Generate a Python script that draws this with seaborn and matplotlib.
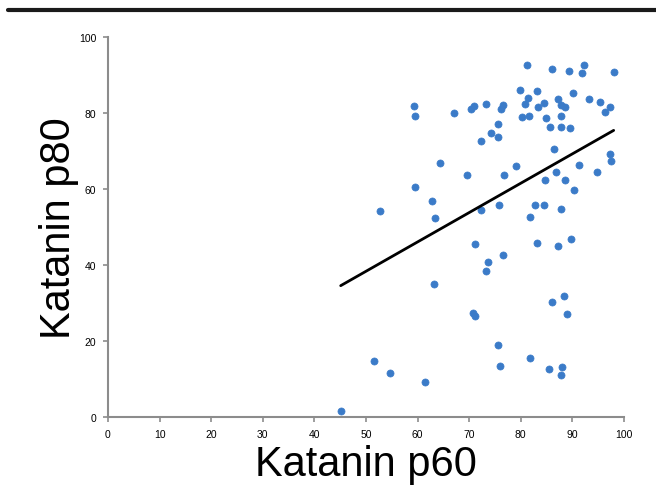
import matplotlib
matplotlib.use("Agg")
import matplotlib.pyplot as plt
from matplotlib.lines import Line2D
import seaborn as sns
import pandas as pd

# Katanin p60 vs p80 scores
p60 = [45.1, 51.6, 54.6, 61.5, 52.7, 59.3, 59.5, 59.5, 62.8, 63.4,
       63.1, 64.4, 67.1, 69.6, 70.3, 70.9, 70.8, 71.1, 71.1, 72.2,
       72.2, 73.3, 73.3, 73.7, 74.2, 75.5, 75.5, 75.5, 75.7, 76.0,
       76.1, 76.6, 76.6, 76.8, 79.0, 79.8, 80.3, 80.8, 81.3, 81.4,
       81.5, 81.7, 81.8, 82.7, 83.1, 83.1, 83.4, 84.5, 84.5, 84.7,
       84.8, 85.5, 85.6, 86.1, 86.1, 86.4, 86.9, 87.2, 87.2, 87.7,
       87.7, 87.7, 87.7, 87.7, 88.0, 88.3, 88.5, 88.5, 89.0, 89.4,
       89.6, 89.7, 90.1, 90.3, 91.3, 91.8, 92.3, 93.2, 94.8, 95.4,
       96.4, 97.2, 97.2, 97.5, 98.0]
p80 = [1.6, 14.8, 11.6, 9.1, 54.1, 81.8, 79.2, 60.5, 56.9, 52.4,
       35.0, 66.8, 79.9, 63.8, 81.1, 81.8, 27.4, 26.7, 45.4, 72.5,
       54.5, 82.4, 38.5, 40.7, 74.8, 77.0, 73.6, 18.9, 55.9, 13.3,
       81.0, 82.1, 42.5, 63.8, 66.0, 86.1, 79.0, 82.4, 92.5, 84.0,
       79.2, 15.5, 52.7, 55.8, 85.9, 45.8, 81.5, 82.5, 55.8, 62.4,
       78.6, 12.7, 76.4, 91.5, 30.3, 70.6, 64.5, 83.8, 45.0, 82.2,
       79.3, 76.4, 54.8, 11.1, 13.1, 31.8, 81.7, 62.4, 27.1, 91.1,
       76.0, 46.8, 85.3, 59.8, 66.4, 90.6, 92.7, 83.6, 64.5, 82.8,
       80.3, 81.7, 69.3, 67.3, 90.7]

df = pd.DataFrame({"p60": p60, "p80": p80})

sns.set_style("white")
plt.rcParams["font.family"] = ["Liberation Sans", "DejaVu Sans"]

fig = plt.figure(figsize=(6.56, 4.89), dpi=100)
ax = fig.add_axes([0.1646, 0.1452, 0.7866, 0.7771])

sns.scatterplot(data=df, x="p60", y="p80", ax=ax, color="#3b7bc8",
                s=26, edgecolor="#3b7bc8", linewidth=0.5, zorder=3)
sns.regplot(data=df, x="p60", y="p80", ax=ax, scatter=False, ci=None,
            line_kws={"color": "black", "lw": 2.0, "zorder": 4})

ax.set_xlim(0, 100)
ax.set_ylim(0, 100)
ax.set_xticks(range(0, 101, 10))
ax.set_yticks(range(0, 101, 20))
ax.tick_params(axis="both", bottom=True, left=True, labelsize=7.5, length=3.5,
               width=1.2, color="#8c8c8c", direction="out", labelcolor="black")
ax.tick_params(axis="x", pad=5)
ax.tick_params(axis="y", pad=5)
for side in ["top", "right"]:
    ax.spines[side].set_visible(False)
for side in ["left", "bottom"]:
    ax.spines[side].set_color("#8c8c8c")
    ax.spines[side].set_linewidth(1.5)
ax.grid(False)

ax.set_xlabel("Katanin p60", fontsize=30, labelpad=4, color="black")
ax.set_ylabel("Katanin p80", fontsize=30, labelpad=0, color="black")

# thick rule across the top of the figure
fig.add_artist(Line2D([0.012, 1.0], [0.9785, 0.9785], color="#1a1a1a", lw=3,
                      transform=fig.transFigure))

fig.savefig("out.png", dpi=100)
